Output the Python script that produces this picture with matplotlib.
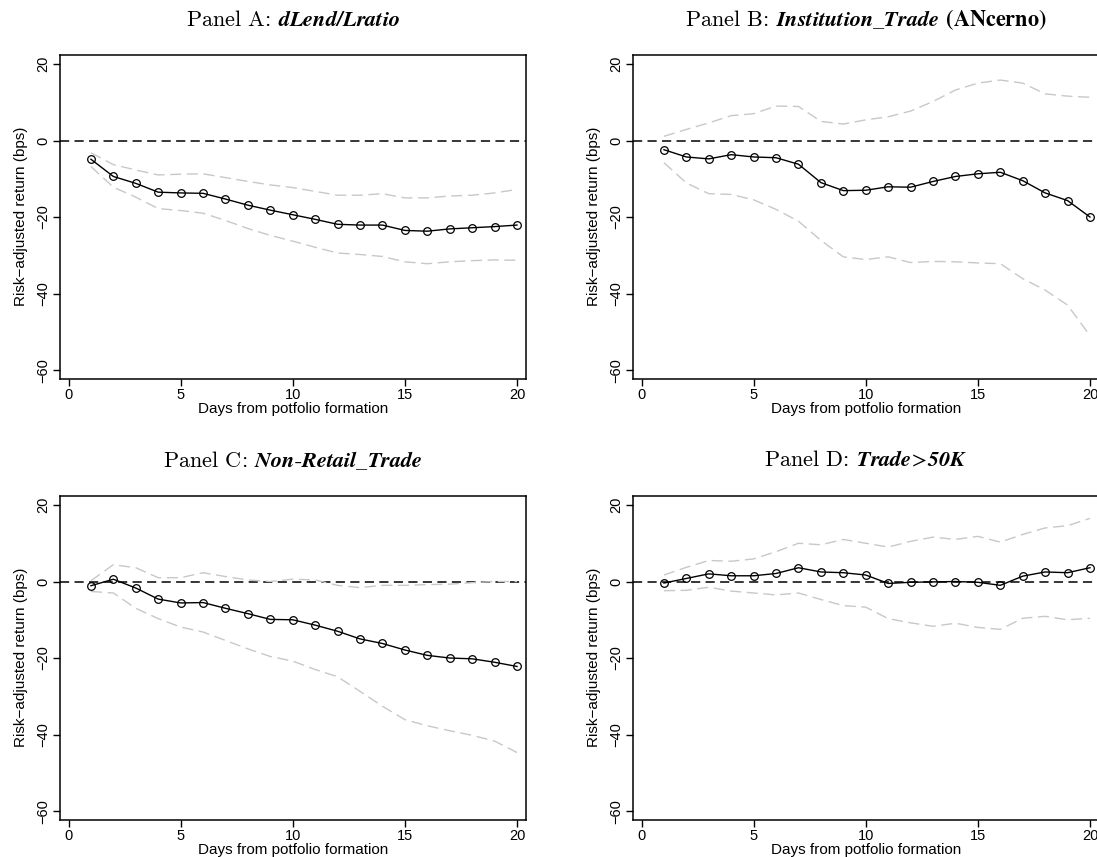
import numpy as np
import matplotlib.pyplot as plt

plt.rcParams['font.family'] = ['Liberation Sans', 'DejaVu Sans']
plt.rcParams['mathtext.fontset'] = 'stix'
plt.rcParams['axes.unicode_minus'] = True

days = np.arange(1, 21)

# Panel A: dLend/Lratio
a_est = [-4.9, -9.4, -11.2, -13.5, -13.7, -13.8, -15.3, -16.9, -18.2, -19.4,
         -20.6, -21.9, -22.1, -22.1, -23.5, -23.7, -23.1, -22.8, -22.5, -22.1]
a_hi = [-3.2, -6.3, -7.7, -9.0, -8.8, -8.7, -9.7, -10.7, -11.6, -12.3,
        -13.3, -14.3, -14.3, -13.9, -15.0, -15.0, -14.5, -14.3, -13.7, -12.8]
a_lo = [-6.8, -12.2, -14.8, -17.8, -18.3, -19.0, -20.9, -23.0, -24.8, -26.3,
        -27.9, -29.4, -29.8, -30.3, -31.7, -32.2, -31.7, -31.4, -31.2, -31.3]

# Panel B: Institution_Trade (ANcerno)
b_est = [-2.4, -4.3, -4.8, -3.7, -4.3, -4.5, -6.2, -11.0, -13.1, -13.0,
         -12.1, -12.2, -10.7, -9.4, -8.7, -8.3, -10.5, -13.7, -15.7, -20.0]
b_hi = [1.1, 2.9, 4.6, 6.5, 7.0, 9.0, 8.9, 5.0, 4.3, 5.4,
        6.2, 7.7, 10.2, 13.2, 15.0, 15.8, 15.0, 12.2, 11.6, 11.3]
b_lo = [-5.8, -11.1, -13.9, -14.1, -15.5, -18.0, -21.1, -26.1, -30.4, -31.1,
        -30.4, -31.9, -31.6, -31.7, -32.0, -32.2, -36.1, -39.1, -43.0, -51.0]

# Panel C: Non-Retail_Trade
c_est = [-1.1, 0.6, -1.7, -4.6, -5.6, -5.5, -7.0, -8.4, -9.9, -10.0,
         -11.4, -13.0, -15.0, -16.2, -17.9, -19.3, -20.0, -20.2, -21.1, -22.2]
c_hi = [0.2, 4.4, 3.6, 1.0, 1.0, 2.3, 1.3, 0.4, 0.0, 0.6,
        0.4, -1.0, -1.6, -1.0, -1.0, -0.8, -0.7, -0.3, 0.0, 0.0]
c_lo = [-2.6, -3.0, -7.0, -9.7, -11.9, -13.2, -15.4, -17.6, -19.6, -20.8,
        -23.0, -24.9, -28.7, -32.6, -36.1, -37.7, -39.0, -40.2, -41.7, -44.7]

# Panel D: Trade>50K
d_est = [-0.4, 0.8, 2.0, 1.5, 1.5, 2.1, 3.6, 2.5, 2.3, 1.7,
         -0.5, -0.2, -0.1, 0.0, -0.2, -1.0, 1.4, 2.5, 2.3, 3.6]
d_hi = [1.7, 3.7, 5.5, 5.3, 5.9, 7.8, 10.0, 9.6, 11.0, 10.0,
        9.0, 10.5, 11.6, 11.0, 11.8, 10.3, 12.3, 14.0, 14.6, 16.5]
d_lo = [-2.4, -2.3, -1.5, -2.5, -3.0, -3.5, -3.0, -4.7, -6.3, -6.7,
        -9.7, -10.8, -11.7, -10.9, -12.0, -12.5, -9.6, -9.1, -10.0, -9.6]

titles = [r'Panel A: $\mathbfit{dLend/Lratio}$',
          r'Panel B: $\mathbfit{Institution\_Trade}$ $\mathbf{(ANcerno)}$',
          r'Panel C: $\mathbfit{Non}$-$\mathbfit{Retail\_Trade}$',
          r'Panel D: $\mathbfit{Trade}\!>\!\mathbfit{50K}$']
panels = [(a_est, a_hi, a_lo), (b_est, b_hi, b_lo),
          (c_est, c_hi, c_lo), (d_est, d_hi, d_lo)]

W, H = 1097, 857
fig = plt.figure(figsize=(W / 100, H / 100), dpi=100)
boxes = [(60, 55), (633, 55), (60, 496), (633, 496)]
aw, ah = 465.5, 323.5

for (x0, y0), (est, hi, lo), title in zip(boxes, panels, titles):
    ax = fig.add_axes([x0 / W, (H - y0 - ah) / H, aw / W, ah / H])
    ax.axhline(0, color='black', lw=1.1, ls=(0, (6, 3.5)), zorder=1)
    ax.plot(days, hi, color='#c8c8c8', lw=1.0, ls=(0, (8, 4)), zorder=2)
    ax.plot(days, lo, color='#c8c8c8', lw=1.0, ls=(0, (8, 4)), zorder=2)
    ax.plot(days, est, color='black', lw=1.0, marker='o', ms=5.5,
            mfc='none', mec='black', mew=0.9, zorder=3)
    ax.set_xlim(-0.38, 20.38)
    ax.set_ylim(-62.2, 22.35)
    ax.set_xticks([0, 5, 10, 15, 20])
    ax.set_yticks([-60, -40, -20, 0, 20])
    ax.tick_params(direction='out', length=5, width=1, labelsize=10.5, pad=2)
    ax.tick_params(axis='y', labelrotation=90)
    for lab in ax.get_yticklabels():
        lab.set_va('center')
    for s in ax.spines.values():
        s.set_linewidth(1.1)
    ax.set_xlabel('Days from potfolio formation', fontsize=11, labelpad=0)
    ax.set_ylabel('Risk\u2212adjusted return (bps)', fontsize=11, labelpad=6)
    ax.set_title(title, fontsize=16, fontfamily='cmr10', pad=21)

fig.savefig('out.png', dpi=100)
